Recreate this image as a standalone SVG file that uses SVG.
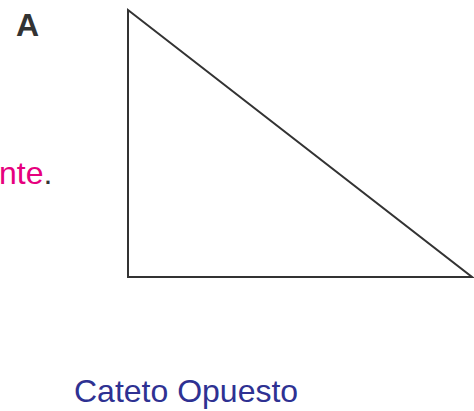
<svg xmlns="http://www.w3.org/2000/svg" width="474" height="411" viewBox="0 0 474 411">
<style>
text{font-family:"Liberation Sans",Arial,sans-serif;font-size:32px}
</style>
<rect width="474" height="411" fill="#fff"/>
<g id="triangle"><polygon points="128,10 128,277 472,277" fill="none" stroke="#333" stroke-width="2"/></g>
<g id="label-a"><text x="16" y="36" font-weight="bold" fill="#333">A</text></g>
<g id="label-nte"><text x="-1" y="184" fill="#e6007e">nte<tspan fill="#333">.</tspan></text></g>
<g id="label-opuesto"><text x="74" y="402" fill="#2e3192">Cateto Opuesto</text></g>
</svg>
